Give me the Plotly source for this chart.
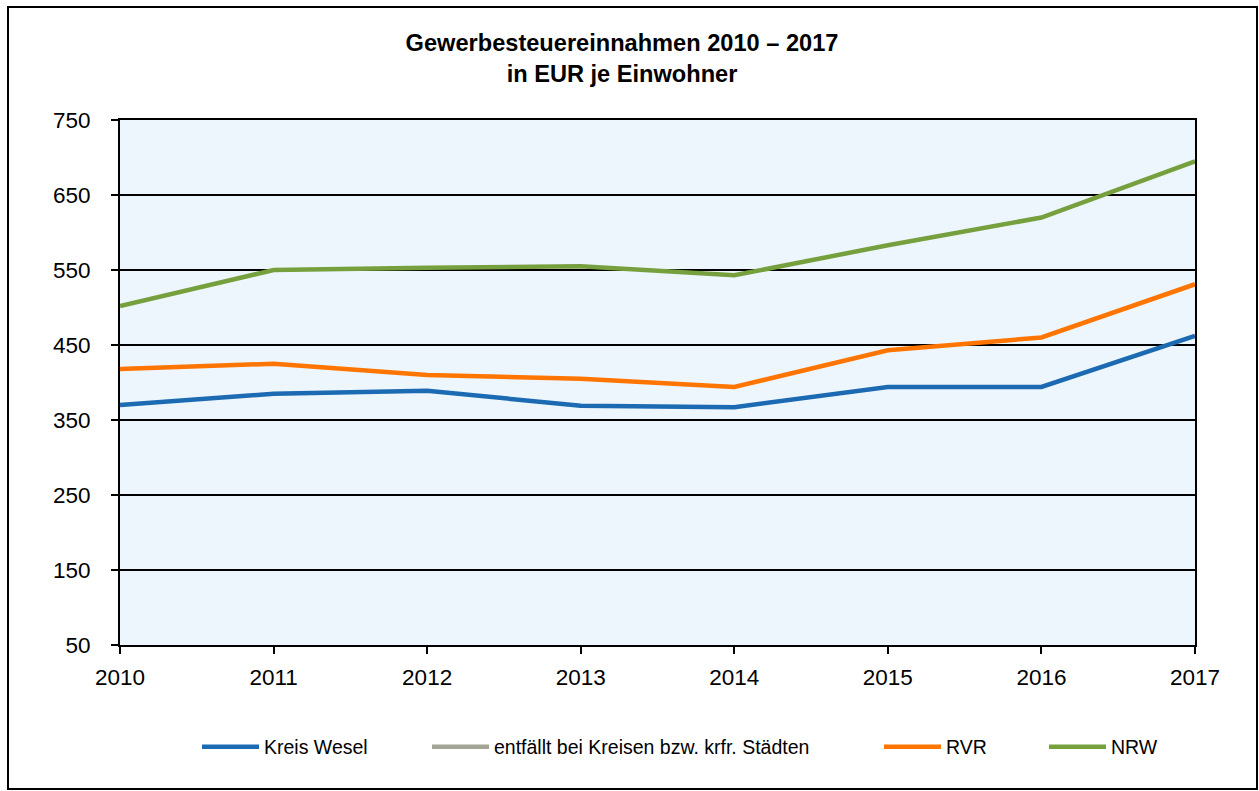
import plotly.graph_objects as go

years = [2010, 2011, 2012, 2013, 2014, 2015, 2016, 2017]
kreis_wesel = [370, 385, 389, 369, 367, 394, 394, 462]
rvr = [418, 425, 410, 405, 394, 443, 460, 531]
nrw = [502, 550, 553, 555, 543, 583, 620, 695]
y_ticks = [50, 150, 250, 350, 450, 550, 650, 750]

names = ["Kreis Wesel", "entfällt bei Kreisen bzw. krfr. Städten", "RVR", "NRW"]
colors = ["#1B6AB2", "#A3A597", "#FF7500", "#76A03E"]

W, H = 1259, 791
L, R, T, B = 120, 1195, 120, 645

def px_x(p):
    return (p - L) / (R - L)

def px_y(p):
    return (B - p) / (B - T)

fig = go.Figure()
series = [kreis_wesel, None, rvr, nrw]
legend_x = [197, 427, 879, 1044]
for i, (nm, col, s) in enumerate(zip(names, colors, series)):
    lg = "legend" if i == 0 else f"legend{i+1}"
    if s is None:
        fig.add_trace(go.Scatter(x=[None], y=[None], mode="lines", name=nm,
                                 line=dict(color=col, width=4.5), legend=lg, showlegend=True))
    else:
        fig.add_trace(go.Scatter(x=years, y=s, mode="lines", name=nm,
                                 line=dict(color=col, width=4.5), legend=lg, showlegend=True))

legend_common = dict(orientation="h", yanchor="middle", xanchor="left",
                     font=dict(family="Liberation Sans, Arial", size=19.5, color="#000"),
                     bgcolor="rgba(0,0,0,0)", itemwidth=57, borderwidth=0)
layout_legends = {}
for i, lx in enumerate(legend_x):
    key = "legend" if i == 0 else f"legend{i+1}"
    layout_legends[key] = dict(legend_common, x=px_x(lx), y=px_y(747))

fig.update_layout(
    width=W, height=H,
    showlegend=True,
    margin=dict(l=L, r=W - R, t=T, b=H - B, pad=0),
    paper_bgcolor="white",
    plot_bgcolor="#EEF6FD",
    font=dict(family="Liberation Sans, Arial", color="#000"),
    title=dict(text="<b>Gewerbesteuereinnahmen 2010 – 2017<br>in EUR je Einwohner</b>",
               x=px_x(622), xref="paper", xanchor="center", y=1 - 51 / H, yanchor="middle",
               font=dict(size=23.6, color="#000")),
    xaxis=dict(range=[2010, 2017], tickvals=years, ticktext=[str(y) for y in years],
               showgrid=False, zeroline=False, showline=True, linecolor="#000", linewidth=2,
               mirror=True, ticks="outside", ticklen=7, tickwidth=2, tickcolor="#000",
               ticklabelstandoff=4,
               tickfont=dict(size=22.5), fixedrange=True),
    yaxis=dict(range=[50, 750], tickvals=y_ticks, ticktext=[str(v) for v in y_ticks],
               showgrid=True, gridcolor="#000", gridwidth=2, zeroline=False,
               showline=True, linecolor="#000", linewidth=2, mirror=True,
               ticks="outside", ticklen=7, tickwidth=2, tickcolor="#000",
               ticklabelstandoff=16,
               tickfont=dict(size=22.5), fixedrange=True),
    **layout_legends,
    shapes=[dict(type="rect", xref="paper", yref="paper",
                 x0=px_x(8), x1=px_x(1257), y0=px_y(789), y1=px_y(7),
                 line=dict(color="#000", width=2), fillcolor="rgba(0,0,0,0)", layer="below")],
)

fig.write_html("out.html", config={"displayModeBar": False},
               post_script="document.body.style.margin='0px';")
